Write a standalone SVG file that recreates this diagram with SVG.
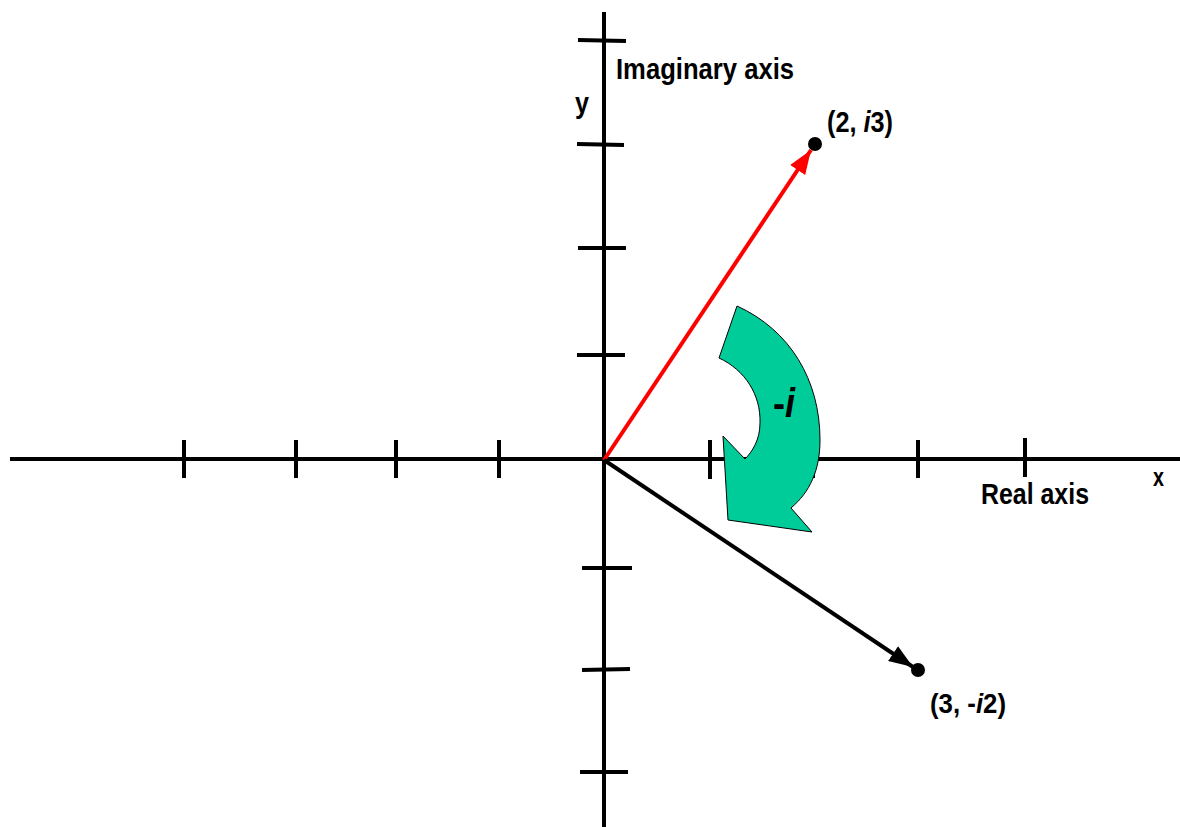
<svg xmlns="http://www.w3.org/2000/svg" width="1180" height="827" viewBox="0 0 1180 827">
<style>
.ax{stroke:#000;stroke-width:4;fill:none}
.tk{stroke:#000;stroke-width:4}
.lb{font-family:"Liberation Sans",Arial,sans-serif;font-weight:bold;fill:#000}
</style>
<defs>
<marker id="hr" markerUnits="userSpaceOnUse" markerWidth="26" markerHeight="20" refX="24" refY="9" orient="auto"><path d="M0,0 L24,9 L0,18 Z" fill="#ff0000"/></marker>
<marker id="hb" markerUnits="userSpaceOnUse" markerWidth="26" markerHeight="20" refX="24" refY="9" orient="auto"><path d="M0,0 L24,9 L0,18 Z" fill="#000"/></marker>
</defs>
<rect width="1180" height="827" fill="#fff"/>
<g id="axes">
<line class="ax" x1="10" y1="459" x2="1180" y2="459"/>
<line class="ax" x1="604" y1="12" x2="604" y2="827"/>
<g class="tk">
<line x1="184" y1="440" x2="184" y2="478"/>
<line x1="296" y1="440" x2="296" y2="478"/>
<line x1="396" y1="440" x2="396" y2="478"/>
<line x1="499" y1="440" x2="499" y2="478"/>
<line x1="710" y1="440" x2="710" y2="479"/>
<line x1="813" y1="440" x2="813" y2="478"/>
<line x1="918" y1="440" x2="918" y2="478"/>
<line x1="1025" y1="438" x2="1025" y2="477"/>
<line x1="578" y1="40" x2="626" y2="41"/>
<line x1="577" y1="144" x2="624" y2="145"/>
<line x1="578" y1="248" x2="626" y2="248"/>
<line x1="577" y1="355" x2="625" y2="355"/>
<line x1="582" y1="568" x2="632" y2="568"/>
<line x1="582" y1="670" x2="630" y2="669"/>
<line x1="580" y1="772" x2="628" y2="772"/>
</g>
</g>
<g id="connectors">
<line x1="604" y1="460" x2="811" y2="150" stroke="#ff0000" stroke-width="4" marker-end="url(#hr)"/>
<line x1="604" y1="460" x2="913" y2="667" stroke="#000" stroke-width="4" marker-end="url(#hb)"/>
</g>
<g id="point-2-i3">
<circle cx="815" cy="144" r="7" fill="#000"/>
<text class="lb" x="827" y="132" font-size="29" textLength="66" lengthAdjust="spacingAndGlyphs">(2, <tspan font-style="italic">i</tspan>3)</text>
</g>
<g id="point-3-i2">
<circle cx="918" cy="670" r="7" fill="#000"/>
<text class="lb" x="930" y="713" font-size="28" textLength="76" lengthAdjust="spacingAndGlyphs">(3, -<tspan font-style="italic">i</tspan>2)</text>
</g>
<g id="rotation">
<path d="M737,306 C790,330 820,380 820,440 C820,470 810,492 791,508 L812,532 L728,520 L723,436 L745,459 C752,452 760,440 760,423 C761,395 745,370 719,358 Z" fill="#00cc99" stroke="#000" stroke-width="1"/>
<text class="lb" x="773" y="417" font-size="40" textLength="22" lengthAdjust="spacingAndGlyphs">-<tspan font-style="italic">i</tspan></text>
</g>
<g id="labels">
<text class="lb" x="616" y="79" font-size="30" textLength="178" lengthAdjust="spacingAndGlyphs">Imaginary axis</text>
<text class="lb" x="575" y="113" font-size="30" textLength="14" lengthAdjust="spacingAndGlyphs">y</text>
<text class="lb" x="981" y="504" font-size="29" textLength="108" lengthAdjust="spacingAndGlyphs">Real axis</text>
<text class="lb" x="1153" y="486" font-size="26" textLength="11" lengthAdjust="spacingAndGlyphs">x</text>
</g>
</svg>
